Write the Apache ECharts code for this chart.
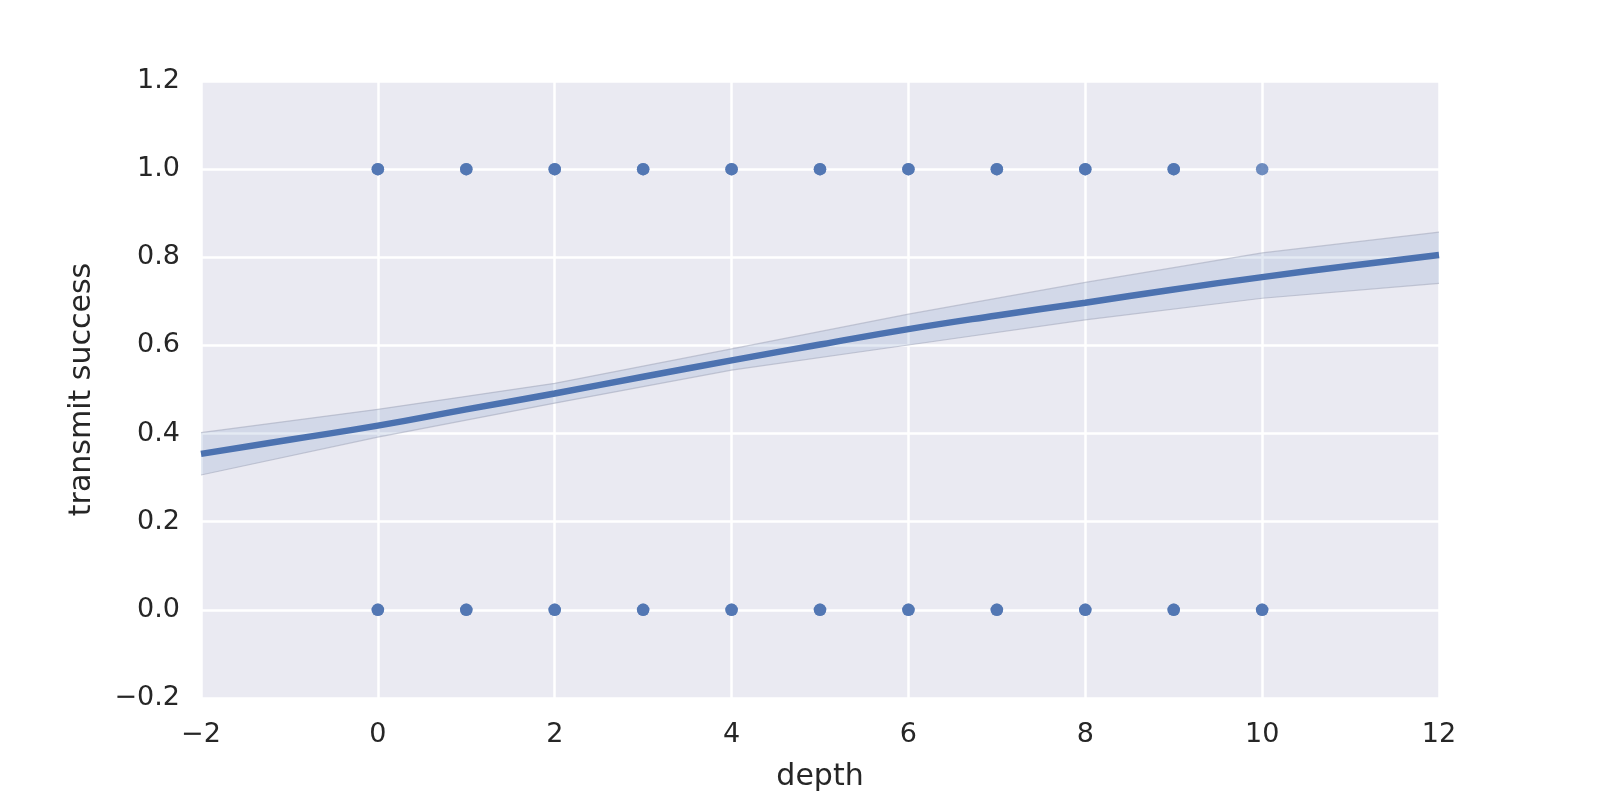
<!DOCTYPE html>
<html>
<head>
<meta charset="utf-8">
<script src="https://cdn.jsdelivr.net/npm/echarts@6/dist/echarts.min.js"></script>
<style>
html,body{margin:0;padding:0;background:#fff;}
#chart{width:1600px;height:800px;}
</style>
</head>
<body>
<div id="chart"></div>
<script>
// observed depths and how many observations sit at success = 1 / success = 0
const depthValues = [0, 1, 2, 3, 4, 5, 6, 7, 8, 9, 10];
const countAtOne  = [2, 2, 2, 2, 2, 2, 2, 2, 2, 2, 1];
const countAtZero = [2, 2, 2, 2, 2, 2, 2, 2, 2, 2, 2];

// fitted curve
const fitX = [-2, -1, 0, 1, 2, 3, 4, 5, 6, 7, 8, 9, 10, 11, 12];
const fitY = [0.354, 0.386, 0.418, 0.455, 0.491, 0.529, 0.566, 0.602, 0.637, 0.668, 0.697, 0.727, 0.755, 0.781, 0.805];

// confidence band
const bandX     = [-2, 0, 2, 4, 6, 8, 10, 12];
const bandUpper = [0.402, 0.455, 0.514, 0.592, 0.671, 0.743, 0.810, 0.857];
const bandLower = [0.306, 0.392, 0.469, 0.544, 0.601, 0.658, 0.707, 0.741];

const xTicks = { min: -2, max: 12, interval: 2 };
const yTicks = { min: -0.2, max: 1.2, interval: 0.2 };

const scatterData = [];
depthValues.forEach((d, i) => {
  for (let k = 0; k < countAtOne[i]; k++) scatterData.push([d, 1]);
  for (let k = 0; k < countAtZero[i]; k++) scatterData.push([d, 0]);
});
const fitData = fitX.map((x, i) => [x, fitY[i]]);
const bandData = bandX.map((x, i) => [x, bandLower[i], bandUpper[i]]);

const fmtNum = (v, dec) => {
  if (Math.abs(v) < 1e-9) v = 0;
  return v.toFixed(dec).replace('-', '\u2212');
};

const FONT = 'DejaVu Sans';
const TXT = '#262626';

const chart = echarts.init(document.getElementById('chart'), null, { renderer: 'canvas' });
chart.setOption({
  animation: false,
  backgroundColor: '#ffffff',
  grid: {
    left: 201, right: 161, top: 81, bottom: 102,
    show: true, backgroundColor: '#EAEAF2', borderWidth: 0
  },
  xAxis: {
    type: 'value', min: xTicks.min, max: xTicks.max, interval: xTicks.interval,
    name: 'depth', nameLocation: 'middle', nameGap: 64,
    nameTextStyle: { fontFamily: FONT, fontSize: 30, color: TXT },
    axisLine: { show: false }, axisTick: { show: false },
    axisLabel: { fontFamily: FONT, fontSize: 27, color: TXT, margin: 23,
      formatter: v => fmtNum(v, 0) },
    splitLine: { show: true, lineStyle: { color: '#ffffff', width: 2.5 } }
  },
  yAxis: {
    type: 'value', min: yTicks.min, max: yTicks.max, interval: yTicks.interval,
    name: 'transmit success', nameLocation: 'middle', nameGap: 104,
    nameTextStyle: { fontFamily: FONT, fontSize: 30, color: TXT },
    axisLine: { show: false }, axisTick: { show: false },
    axisLabel: { fontFamily: FONT, fontSize: 27, color: TXT, margin: 21,
      formatter: v => fmtNum(v, 1) },
    splitLine: { show: true, lineStyle: { color: '#ffffff', width: 2.5 } }
  },
  series: [
    {
      type: 'custom',
      data: bandData,
      silent: true,
      z: 2,
      renderItem: function (params, api) {
        if (params.dataIndex !== 0) return null;
        const upper = bandData.map(d => api.coord([d[0], d[2]]));
        const lower = bandData.map(d => api.coord([d[0], d[1]])).reverse();
        return {
          type: 'group',
          children: [
            { type: 'polygon', shape: { points: upper.concat(lower) },
              style: { fill: 'rgba(76,114,176,0.15)', stroke: 'none' } },
            { type: 'polyline', shape: { points: upper },
              style: { fill: 'none', stroke: 'rgba(160,165,185,0.55)', lineWidth: 1.2 } },
            { type: 'polyline', shape: { points: lower },
              style: { fill: 'none', stroke: 'rgba(160,165,185,0.55)', lineWidth: 1.2 } }
          ]
        };
      }
    },
    {
      type: 'scatter', data: scatterData, symbolSize: 12.5, z: 3,
      itemStyle: { color: '#4C72B0', opacity: 0.8 }
    },
    {
      type: 'line', data: fitData, showSymbol: false, smooth: true, z: 4,
      lineStyle: { color: '#4C72B0', width: 6.5 }
    }
  ]
});
</script>
</body>
</html>
